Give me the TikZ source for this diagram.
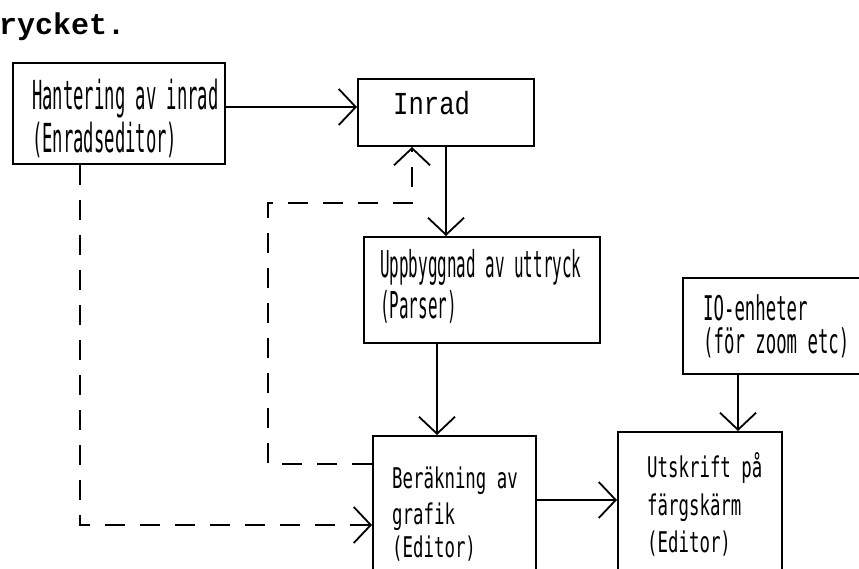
\documentclass[tikz,border=0pt]{standalone}
\usepackage{fontspec}
\usetikzlibrary{arrows.meta}
\newfontfamily\nfA[FakeStretch=0.43]{DejaVu Sans Mono}
\newfontfamily\nfB[FakeStretch=0.51]{DejaVu Sans Mono}
\newfontfamily\nfC[FakeStretch=0.61]{DejaVu Sans Mono}
\newfontfamily\inradfont[FakeStretch=0.8]{Liberation Mono}
\newfontfamily\titlefont{Liberation Mono}
\begin{document}
\begin{tikzpicture}[x=1pt,y=1pt,
  box/.style={draw,line width=2pt,inner sep=0pt,anchor=north west},
  txt/.style={anchor=base west,inner sep=0pt},
  fA/.style={font=\nfA\fontsize{40}{40}\selectfont},
  fU/.style={font=\nfA\fontsize{37}{37}\selectfont},
  fB/.style={font=\nfB\fontsize{34}{34}\selectfont},
  fC/.style={font=\nfC\fontsize{28.5}{28.5}\selectfont},
  conn/.style={line width=1.8pt,-{Straight Barb[length=17pt,width=36pt,line width=1.8pt]}},
  dl/.style={conn,dash pattern=on 20pt off 15pt}]
\clip (0,0) rectangle (859,-569);
\fill[white] (0,0) rectangle (859,-569);

% title
\node[txt,font=\titlefont\bfseries\fontsize{30}{30}\selectfont] (title) at (-1,-35) {rycket.};

% boxes
\node[box,minimum width=212pt,minimum height=101pt] (b1) at (12,-62) {};
\node[box,minimum width=176pt,minimum height=67pt] (inr) at (357,-78) {};
\node[box,minimum width=236pt,minimum height=106pt] (upp) at (363,-236) {};
\node[box,minimum width=163pt,minimum height=200pt] (ber) at (372,-435) {};
\node[box,minimum width=164pt,minimum height=200pt] (uts) at (617,-431) {};
\node[box,minimum width=260pt,minimum height=96pt] (io) at (682,-277) {};

% texts
\node[txt,fA] (t1a) at (32,-110) {Hantering av inrad};
\node[txt,fA] (t1b) at (32,-153) {(Enradseditor)};
\node[txt,font=\inradfont\fontsize{32}{32}\selectfont] (t2) at (393,-115) {Inrad};
\node[txt,fU] (t3a) at (380,-277) {Uppbyggnad av uttryck};
\node[txt,fU] (t3b) at (380,-318) {(Parser)};
\node[txt,fB] (t4a) at (703,-320) {IO-enheter};
\node[txt,fB] (t4b) at (703,-353) {(för zoom etc)};
\node[txt,fC] (t5a) at (392,-488) {Beräkning av};
\node[txt,fC] (t5b) at (392,-524) {grafik};
\node[txt,fC] (t5c) at (392,-557) {(Editor)};
\node[txt,fC] (t6a) at (647,-477) {Utskrift på};
\node[txt,fC] (t6b) at (647,-515) {färgskärm};
\node[txt,fC] (t6c) at (647,-552) {(Editor)};

% helper coordinates
\coordinate (a1) at (0,-107);
\coordinate (a2) at (446,0);
\coordinate (a3) at (437,0);
\coordinate (a4) at (0,-500);
\coordinate (a5) at (738,0);
\coordinate (d1) at (80,-525);
\coordinate (d2) at (268,-464);
\coordinate (d3) at (268,-203);
\coordinate (d4) at (412,-203);

% solid connectors
\draw[conn] (b1.east |- a1) -- (inr.west |- a1);
\draw[conn] (inr.south -| a2) -- (upp.north -| a2);
\draw[conn] (upp.south -| a3) -- (ber.north -| a3);
\draw[conn] (ber.east |- a4) -- (uts.west |- a4);
\draw[conn] (io.south -| a5) -- (uts.north -| a5);

% dashed connectors
\draw[dl] (b1.south -| d1) -- (d1) -- (ber.west |- d1);
\draw[dl] (ber.west |- d2) -- (d2) -- (d3) -- (d4) -- (inr.south -| d4);
\end{tikzpicture}
\end{document}
